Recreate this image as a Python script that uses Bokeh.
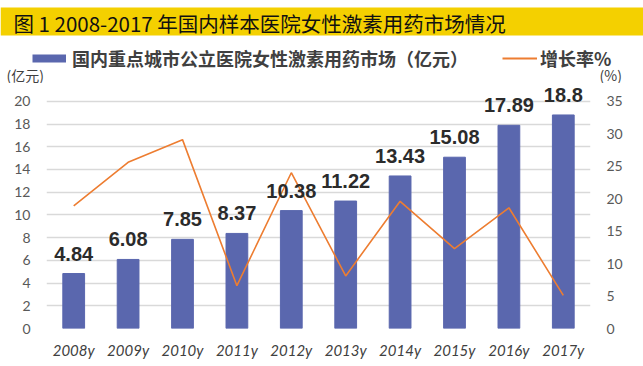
from bokeh.plotting import figure
from bokeh.layouts import column
from bokeh.models import (Range1d, LinearAxis, FixedTicker, ColumnDataSource, LabelSet,
                          Label, BoxAnnotation, Legend, LegendItem)
from bokeh.core.properties import value
from bokeh.embed import file_html
from bokeh.resources import INLINE

years = ["2008y", "2009y", "2010y", "2011y", "2012y", "2013y", "2014y", "2015y", "2016y", "2017y"]
market = [4.84, 6.08, 7.85, 8.37, 10.38, 11.22, 13.43, 15.08, 17.89, 18.8]
growth = [18.9, 25.6, 29.1, 6.6, 24.0, 8.1, 19.6, 12.3, 18.6, 5.1]
left_ticks = [0, 2, 4, 6, 8, 10, 12, 14, 16, 18, 20]
right_ticks = [0, 5, 10, 15, 20, 25, 30, 35]
title_text = "图 1  2008-2017 年国内样本医院女性激素用药市场情况"
bar_name = "国内重点城市公立医院女性激素用药市场（亿元）"
line_name = "增长率%"
left_unit = "(亿元)"
right_unit = "(%)"

BAR = "#5A67AE"
LINE = "#ED7D31"
CJK = "Noto Sans CJK SC"
W = 643
NAN = float("nan")

# ---------------- header (title band, legend, units) ----------------
HH = 83
head = figure(width=W, height=HH, x_range=Range1d(0, W), y_range=Range1d(0, HH),
              x_axis_location=None, y_axis_location=None, output_backend="svg",
              toolbar_location=None, min_border=0)
head.frame_align = False
head.outline_line_color = None
head.grid.grid_line_color = None

head.add_layout(BoxAnnotation(left=0, right=W, bottom=HH - 35, top=HH - 7,
                              fill_color="#F4D000", fill_alpha=1.0, line_alpha=0))
head.add_layout(Label(x=13, y=HH - 22, text=title_text, text_font=CJK, text_font_size="20.5px",
                      text_color="#111111", text_baseline="middle", text_align="left"))

# legend-only renderers (no visible data)
blank = ColumnDataSource(dict(x=[NAN], y=[NAN]))
leg_bar = head.line(x="x", y="y", source=blank, line_color=BAR, line_width=8, line_cap="butt")
leg_line = head.line(x="x", y="y", source=blank, line_color=LINE, line_width=1.8)

common = dict(orientation="horizontal", padding=0, margin=0, border_line_color=None,
              background_fill_alpha=0, label_text_font=CJK, label_text_font_style="bold",
              label_text_font_size="18px", label_text_color="#404040", glyph_height=26)
leg1 = Legend(items=[LegendItem(label=bar_name, renderers=[leg_bar])], location=(32, HH - 71),
              glyph_width=34, label_standoff=6, **common)
leg2 = Legend(items=[LegendItem(label=line_name, renderers=[leg_line])], location=(502, HH - 71),
              glyph_width=35, label_standoff=3, **common)
head.add_layout(leg1)
head.add_layout(leg2)

head.add_layout(Label(x=6, y=9, text=left_unit, text_font=CJK, text_font_size="14px",
                      text_color="#404040", text_baseline="middle", text_align="left"))
head.add_layout(Label(x=599, y=9, text=right_unit, text_font=CJK, text_font_size="14px",
                      text_color="#404040", text_baseline="middle", text_align="left"))

# ---------------- main chart ----------------
src = ColumnDataSource(dict(x=years, y=market, g=growth, t=[str(v) for v in market]))

p = figure(x_range=years, y_range=Range1d(0, 21.57), width=W, height=366 - HH,
           output_backend="svg", toolbar_location=None,
           min_border_left=46, min_border_right=53, min_border_top=0, min_border_bottom=38)
p.frame_align = False
p.outline_line_color = None
p.extra_y_ranges = {"pct": Range1d(0, 37.75)}

p.yaxis.ticker = FixedTicker(ticks=left_ticks)
p.ygrid.ticker = FixedTicker(ticks=left_ticks)
ax_r = LinearAxis(y_range_name="pct", ticker=FixedTicker(ticks=right_ticks))
p.add_layout(ax_r, "right")
for ax in [p.yaxis[0], ax_r]:
    ax.axis_line_color = None
    ax.major_tick_line_color = None
    ax.minor_tick_line_color = None
    ax.major_tick_out = 0
    ax.major_tick_in = 0
    ax.minor_tick_out = 0
    ax.major_label_text_font = "Lato"
    ax.major_label_text_font_size = "14px"
    ax.major_label_text_color = "#595959"
    ax.major_label_standoff = 16
p.xaxis.axis_line_color = None
p.xaxis.major_tick_line_color = None
p.xaxis.major_tick_out = 0
p.xaxis.major_tick_in = 0
p.xaxis.major_label_text_font = "Lato"
p.xaxis.major_label_text_font_style = "italic"
p.xaxis.major_label_text_font_size = "15px"
p.xaxis.major_label_text_color = "#404040"
p.xaxis.major_label_standoff = 12

p.xgrid.grid_line_color = None
p.ygrid.grid_line_color = "#D9D9D9"
p.ygrid.grid_line_width = 1.5

bars = p.vbar(x="x", top="y", width=0.4, source=src, fill_color=BAR, line_color=BAR)
line = p.line(x="x", y="g", source=src, y_range_name="pct", line_color=LINE, line_width=1.6)

p.add_layout(LabelSet(x="x", y="y", text="t", source=src, y_offset=13,
                      text_align="center", text_baseline="alphabetic",
                      text_font=value("Liberation Sans"), text_font_style="bold",
                      text_font_size="20px", text_color="#2B2B2B"))

layout = column(head, p, spacing=0)
open("out.html", "w").write(file_html(layout, INLINE))
